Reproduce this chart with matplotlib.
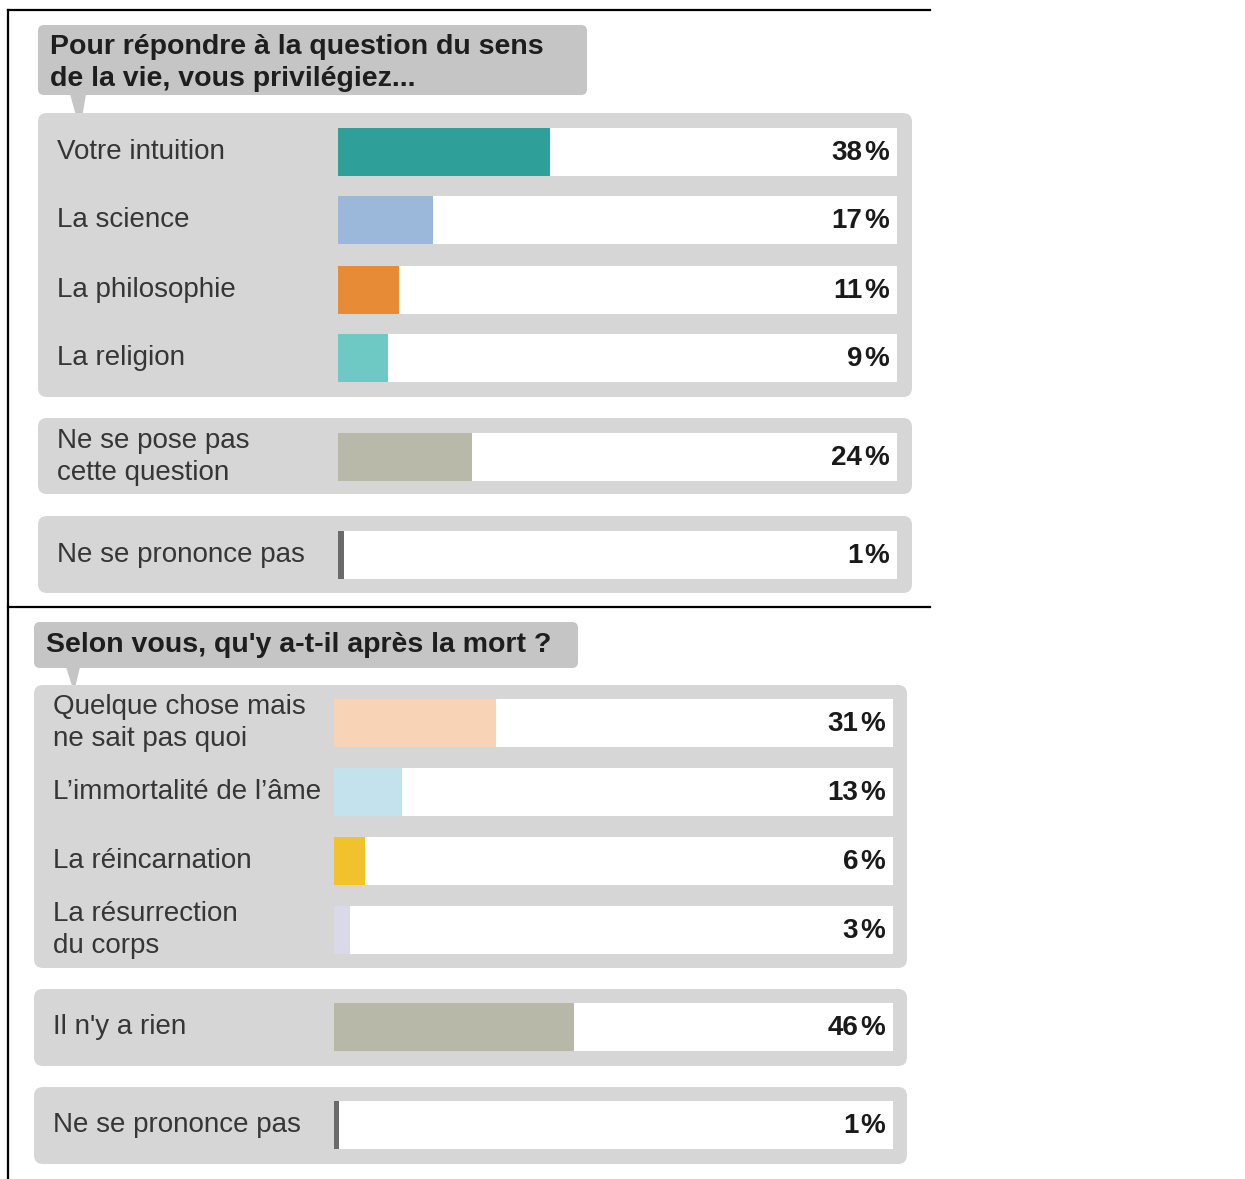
import matplotlib.pyplot as plt
from matplotlib.patches import FancyBboxPatch, Polygon

plt.rcParams['font.family'] = ['Liberation Sans', 'DejaVu Sans']

# --- data ---
title_1 = "Pour répondre à la question du sens\nde la vie, vous privilégiez..."
labels_1 = ["Votre intuition", "La science", "La philosophie", "La religion",
            "Ne se pose pas\ncette question", "Ne se prononce pas"]
values_1 = [38, 17, 11, 9, 24, 1]
colors_1 = ["#2f9f99", "#9bb8db", "#e88b37", "#6ec8c3", "#b9b9aa", "#6a6a6a"]

title_2 = "Selon vous, qu'y a-t-il après la mort ?"
labels_2 = ["Quelque chose mais\nne sait pas quoi", "L’immortalité de l’âme", "La réincarnation",
            "La résurrection\ndu corps", "Il n'y a rien", "Ne se prononce pas"]
values_2 = [31, 13, 6, 3, 46, 1]
colors_2 = ["#f9d3b6", "#c4e2ed", "#f1c22c", "#d9d9e7", "#b8b8a8", "#6a6a6a"]

W, H = 1245, 1179
fig = plt.figure(figsize=(W / 100, H / 100), dpi=100)
bg = fig.add_axes([0, 0, 1, 1])
bg.set_xlim(0, W)
bg.set_ylim(H, 0)
bg.axis('off')

# table border lines
bg.plot([8, 930], [10, 10], color='black', lw=1.6)
bg.plot([8, 930], [607, 607], color='black', lw=1.6)
bg.plot([8, 8], [10, H], color='black', lw=1.6)

BOX = '#d6d6d6'
TITLE_BOX = '#c5c5c5'


def rbox(x0, y0, x1, y1, color, r=8):
    bg.add_patch(FancyBboxPatch((x0 + r, y0 + r), x1 - x0 - 2 * r, y1 - y0 - 2 * r,
                                boxstyle=f"round,pad={r}", fc=color, ec='none'))


def panel(title, tbox, tail, boxes, label_x, track, xmax, rows, labels, values, colors, title_dy):
    rbox(*tbox, TITLE_BOX, r=6)
    bg.add_patch(Polygon(tail, closed=True, fc=TITLE_BOX, ec='none'))
    bg.text(tbox[0] + 12, (tbox[1] + tbox[3]) / 2 + title_dy, title, fontsize=20.5, fontweight='bold',
            color='#1e1e1e', va='center', ha='left', linespacing=1.33)
    for b in boxes:
        rbox(b[0], b[1], b[2], b[3], BOX, r=9)
    for lab, y in zip(labels, rows):
        bg.text(label_x, y, lab, fontsize=20, color='#363636', va='center', ha='left',
                linespacing=1.32)
    # bar axes covering the track, x in percent, y in pixel rows
    top, bottom = boxes[0][1], boxes[-1][3]
    ax = fig.add_axes([track[0] / W, 1 - bottom / H, (track[1] - track[0]) / W, (bottom - top) / H])
    ax.set_xlim(0, xmax)
    ax.set_ylim(bottom, top)
    ax.axis('off')
    ax.barh(rows, [xmax] * len(rows), height=48, color='white', left=0)
    ax.barh(rows, values, height=48, color=colors)
    xr = xmax * 0.985
    for v, y in zip(values, rows):
        ax.text(xr, y + 1, "%", fontsize=20, fontweight='bold', color='#1a1a1a',
                ha='right', va='center')
        ax.annotate(f"{v}", xy=(xr, y + 1), xytext=(-19, 0), textcoords='offset points',
                    fontsize=20, fontweight='bold', color='#1a1a1a', ha='right', va='center')


panel(title_1, (38, 25, 587, 95), [(70, 94), (86, 94), (80, 130)],
      [(38, 113, 912, 397), (38, 418, 912, 494), (38, 516, 912, 593)],
      57, (338, 897), 100, [152, 220, 290, 358, 457, 555],
      labels_1, values_1, colors_1, 3)

panel(title_2, (34, 622, 578, 668), [(66, 667), (80, 667), (74, 692)],
      [(34, 685, 907, 968), (34, 989, 907, 1066), (34, 1087, 907, 1164)],
      53, (334, 893), 107, [723, 792, 861, 930, 1027, 1125],
      labels_2, values_2, colors_2, 0)

fig.savefig('out.png', dpi=100)
